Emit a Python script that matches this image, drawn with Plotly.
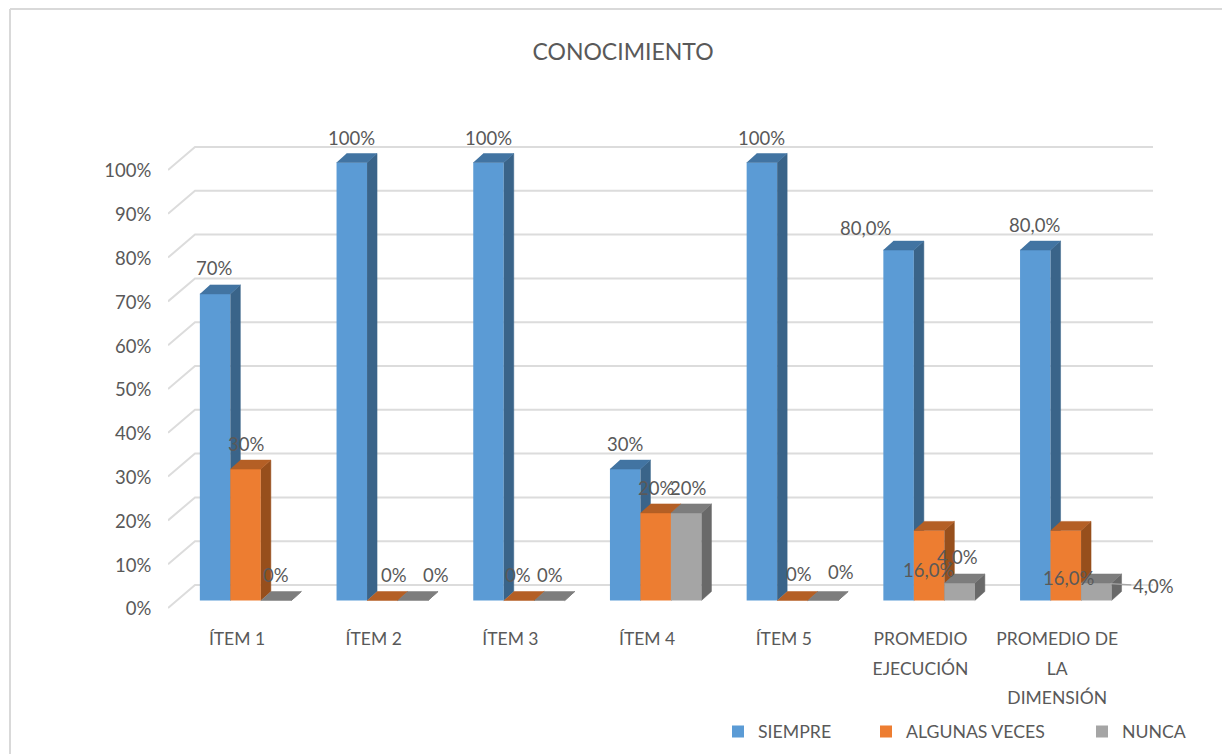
import plotly.graph_objects as go

# ---- data ----
categories = ["ÍTEM 1", "ÍTEM 2", "ÍTEM 3", "ÍTEM 4", "ÍTEM 5", "PROMEDIO EJECUCIÓN", "PROMEDIO DE LA DIMENSIÓN"]
tick_labels = [["ÍTEM 1"], ["ÍTEM 2"], ["ÍTEM 3"], ["ÍTEM 4"], ["ÍTEM 5"],
               ["PROMEDIO", "EJECUCIÓN"], ["PROMEDIO DE", "LA", "DIMENSIÓN"]]
siempre = [70, 100, 100, 30, 100, 80, 80]
algunas = [30, 0, 0, 20, 0, 16, 16]
nunca = [0, 0, 0, 20, 0, 4, 4]
siempre_text = ["70%", "100%", "100%", "30%", "100%", "80,0%", "80,0%"]
algunas_text = ["30%", "0%", "0%", "20%", "0%", "16,0%", "16,0%"]
nunca_text = ["0%", "0%", "0%", "20%", "0%", "4,0%", "4,0%"]
y_ticks = list(range(0, 101, 10))

# ---- layout geometry (pixels of the 1222x754 page) ----
W, H = 1222, 754
PLOT_L, PLOT_R = 168, 1153
PLOT_T, PLOT_B = 100, 612
X0_PX, X_UNIT = 237.0, 136.7
Y0_PX, Y_UNIT = 600.5, 4.38
x_range = [(PLOT_L - X0_PX) / X_UNIT, (PLOT_R - X0_PX) / X_UNIT]
y_range = [(Y0_PX - PLOT_B) / Y_UNIT, (Y0_PX - PLOT_T) / Y_UNIT]
BAR_W = 30.5 / X_UNIT
GROUP_SHIFT = 8.6 / X_UNIT
DEPTH_X = 10 / X_UNIT
DEPTH_Y = 9 / Y_UNIT
WALL_X = 27 / X_UNIT
FLOOR_DROP = 7.5 / Y_UNIT
WALL_RISE = 23 / Y_UNIT

TEXT = "#595959"
FONT = "Lato, 'Liberation Sans', sans-serif"
FS = 18.5
FS_CAT = 17.5
FS_LEG = 17.7

series = [
    dict(name="SIEMPRE", v=siempre, t=siempre_text, front="#5B9BD5", side="#3A6489", top="#4274A2", leg="legend", leg_x=718,
         nudge=[(-1, -26), (0, -24.5), (0, -24.5), (0, -25), (0, -24.5), (-33, -22), (-1, -25)]),
    dict(name="ALGUNAS VECES", v=algunas, t=algunas_text, front="#ED7D31", side="#974F1C", top="#B45F25", leg="legend2", leg_x=866,
         nudge=[(0, -25), (12, -25.5), (-1, -25.5), (0, -25), (6.5, -26.5), (-1, 40), (3, 48)]),
    dict(name="NUNCA", v=nunca, t=nunca_text, front="#A5A5A5", side="#696969", top="#7D7D7D", leg="legend3", leg_x=1082,
         nudge=[(0, -25.5), (23, -25.5), (0, -25.5), (2, -25), (18, -28.5), (-2, -26), (57, 3)]),
]

fig = go.Figure()

# back wall grid with the diagonal on the floor side
gx, gy = [], []
for v in y_ticks:
    gx += [x_range[0], x_range[0] + WALL_X, x_range[1], None]
    gy += [v - FLOOR_DROP, v - FLOOR_DROP + WALL_RISE, v - FLOOR_DROP + WALL_RISE, None]
fig.add_trace(go.Scatter(x=gx, y=gy, mode="lines", line=dict(color="#DCDCDC", width=2),
                         showlegend=False, hoverinfo="skip", xaxis="x", yaxis="y"))

annotations = []
for s, ser in enumerate(series):
    ax, ay = f"x{s + 2}", f"y{s + 2}"
    xc = [i + GROUP_SHIFT + (s - 1) * BAR_W for i in range(len(categories))]
    fig.add_trace(go.Bar(x=xc, y=ser["v"], width=BAR_W, name=ser["name"], legend=ser["leg"],
                         marker=dict(color=ser["front"], line=dict(width=0)),
                         xaxis=ax, yaxis=ay))
    sx, sy, tx, ty = [], [], [], []
    for c, v in zip(xc, ser["v"]):
        x1, x2 = c - BAR_W / 2, c + BAR_W / 2
        sx += [x2, x2 + DEPTH_X, x2 + DEPTH_X, x2, None]
        sy += [0, DEPTH_Y, v + DEPTH_Y, v, None]
        tx += [x1, x2, x2 + DEPTH_X, x1 + DEPTH_X, None]
        ty += [v, v, v + DEPTH_Y, v + DEPTH_Y, None]
    for px, py, col in ((sx, sy, ser["side"]), (tx, ty, ser["top"])):
        fig.add_trace(go.Scatter(x=px, y=py, mode="lines", fill="toself", fillcolor=col,
                                 line=dict(width=0.5, color=col), showlegend=False,
                                 hoverinfo="skip", xaxis=ax, yaxis=ay))
    for i, (c, v, label, (dx, dy)) in enumerate(zip(xc, ser["v"], ser["t"], ser["nudge"])):
        a = dict(x=c, y=v, xref="x", yref="y", text=label, font=dict(family=FONT, size=FS, color=TEXT))
        if s == 2 and i == 6:
            a.update(showarrow=True, arrowhead=0, arrowcolor="#A6A6A6", arrowwidth=1.2, ax=dx, ay=dy, standoff=14)
        else:
            a.update(showarrow=False, xshift=dx, yshift=-dy)
        annotations.append(a)

x_text = []
for lines in tick_labels:
    x_text.append("<br>".join(f'<span style="font-size:{FS_CAT}px">{ln}</span>' for ln in lines))

layout_axes = {}
for n in (2, 3, 4):
    layout_axes[f"xaxis{n}"] = dict(overlaying="x", range=x_range, visible=False, fixedrange=True)
    layout_axes[f"yaxis{n}"] = dict(overlaying="y", range=y_range, visible=False, fixedrange=True)

legends = {}
for ser in series:
    legends[ser["leg"]] = dict(orientation="h", x=ser["leg_x"] / W, xanchor="left", y=1 - 732 / H, yanchor="middle",
                               font=dict(family=FONT, size=FS_LEG, color=TEXT), bgcolor="rgba(0,0,0,0)")

fig.update_layout(
    width=W, height=H, autosize=False,
    margin=dict(l=0, r=0, t=0, b=0, autoexpand=False),
    paper_bgcolor="white", plot_bgcolor="rgba(0,0,0,0)",
    font=dict(family=FONT, size=FS, color=TEXT),
    title=dict(text="CONOCIMIENTO", x=623 / W, xanchor="center", y=1 - 52 / H, yanchor="middle",
               font=dict(family=FONT, size=23, color=TEXT)),
    xaxis=dict(domain=[PLOT_L / W, PLOT_R / W], range=x_range, tickmode="array",
               tickvals=list(range(len(categories))), ticktext=x_text,
               tickfont=dict(family=FONT, size=22.7, color=TEXT),
               ticks="outside", ticklen=5, tickcolor="rgba(0,0,0,0)", showgrid=False,
               zeroline=False, showline=False, tickangle=0, fixedrange=True),
    yaxis=dict(domain=[1 - PLOT_B / H, 1 - PLOT_T / H], range=y_range, tickmode="array",
               tickvals=[v - FLOOR_DROP - 0.2 for v in y_ticks], ticktext=[f"{v}%" for v in y_ticks],
               tickfont=dict(family=FONT, size=FS, color=TEXT),
               ticks="outside", ticklen=12, tickcolor="rgba(0,0,0,0)", showgrid=False,
               zeroline=False, showline=False, fixedrange=True),
    annotations=annotations,
    shapes=[
        dict(type="line", xref="paper", yref="paper", x0=10 / W, x1=10 / W, y0=0, y1=1 - 9 / H,
             line=dict(color="#D9D9D9", width=2), layer="below"),
        dict(type="line", xref="paper", yref="paper", x0=10 / W, x1=1, y0=1 - 9 / H, y1=1 - 9 / H,
             line=dict(color="#D9D9D9", width=2), layer="below"),
    ],
    **legends,
    **layout_axes,
)

fig.write_html("out.html", config={"displayModeBar": False},
               post_script="document.body.style.margin='0';")
